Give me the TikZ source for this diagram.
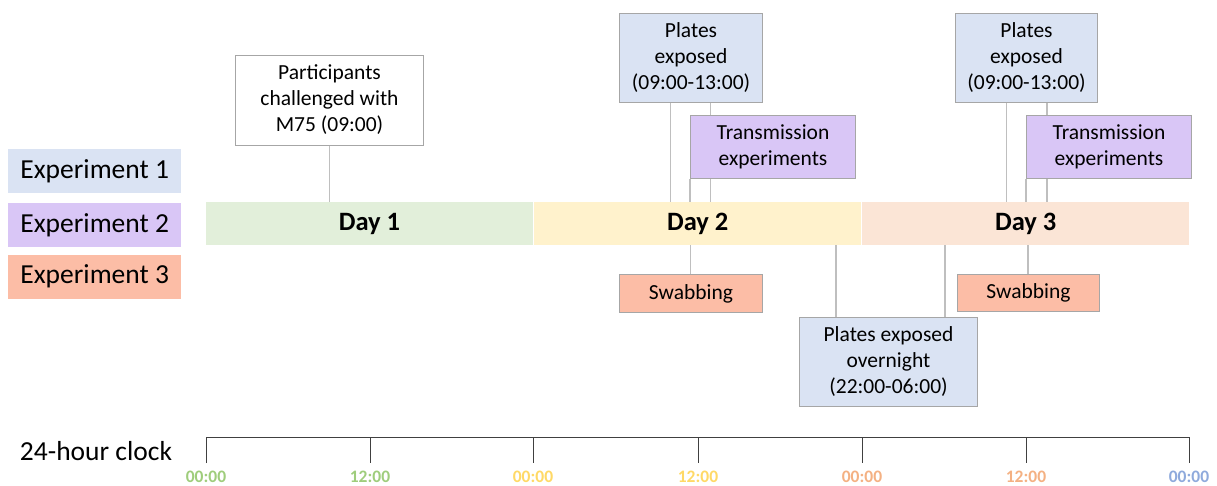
\documentclass[tikz,border=0pt]{standalone}
\usepackage{fontspec}
\setmainfont{Carlito}
\begin{document}
\definecolor{exA}{HTML}{DAE3F3}
\definecolor{exB}{HTML}{D9C6F6}
\definecolor{exC}{HTML}{FCBDA6}
\definecolor{dA}{HTML}{E2EFDA}
\definecolor{dB}{HTML}{FFF2CC}
\definecolor{dC}{HTML}{FBE5D6}
\definecolor{bordc}{HTML}{A6A6A6}
\definecolor{connc}{HTML}{BFBFBF}
\definecolor{clkA}{HTML}{9FCD7C}
\definecolor{clkB}{HTML}{FFD966}
\definecolor{clkC}{HTML}{F4B183}
\definecolor{clkD}{HTML}{8FAADC}
\begin{tikzpicture}[x=1pt,y=-1pt,
  box/.style={draw=bordc, line width=1pt, align=center, anchor=north west, inner sep=0pt,
    font=\fontsize{21.5}{26}\selectfont},
  legend/.style={anchor=north west, inner sep=0pt, minimum width=173pt, minimum height=44pt,
    font=\fontsize{27.5}{32}\selectfont},
  daybar/.style={anchor=north west, inner sep=0pt, minimum height=43pt,
    font=\bfseries\fontsize{26.5}{30}\selectfont},
  conn/.style={draw=connc, line width=1.2pt},
  clk/.style={inner sep=0pt, font=\bfseries\fontsize{17.5}{20}\selectfont},
  axisl/.style={draw=black!75, line width=0.9pt}]
\useasboundingbox (0,0) rectangle (1217,485);

% legend
\node[legend, fill=exA] (e1) at (8,149) {\raisebox{-2pt}{Experiment 1}};
\node[legend, fill=exB] (e2) at (8,203) {\raisebox{-2pt}{Experiment 2}};
\node[legend, fill=exC] (e3) at (8,254.5) {\raisebox{-2pt}{Experiment 3}};

% day bars
\node[daybar, fill=dA, minimum width=326.5pt] (d1) at (206,202) {\raisebox{-3pt}{Day 1}};
\node[daybar, fill=dB, minimum width=327pt] (d2) at (534,202) {\raisebox{-3pt}{Day 2}};
\node[daybar, fill=dC, minimum width=327pt] (d3) at (862,202) {\raisebox{-3pt}{Day 3}};

% boxes
\node[box, fill=white, minimum width=188pt, minimum height=90pt] (part) at (235,54.5)
  {Participants\\challenged with\\M75 (09:00)};
\node[box, fill=exA, minimum width=143pt, minimum height=89pt] (plA) at (619,13)
  {Plates\\exposed\\(09:00-13:00)};
\node[box, fill=exB, minimum width=165pt, minimum height=63pt] (trA) at (690,115)
  {Transmission\\experiments};
\node[box, fill=exC, minimum width=143pt, minimum height=38pt] (swA) at (619,274)
  {Swabbing};
\node[box, fill=exA, minimum width=178pt, minimum height=89pt] (ovn) at (799,317)
  {Plates exposed\\overnight\\(22:00-06:00)};
\node[box, fill=exA, minimum width=142pt, minimum height=89pt] (plB) at (955,13)
  {Plates\\exposed\\(09:00-13:00)};
\node[box, fill=exB, minimum width=165pt, minimum height=63pt] (trB) at (1026,115)
  {Transmission\\experiments};
\node[box, fill=exC, minimum width=142pt, minimum height=37pt] (swB) at (957,274)
  {Swabbing};

% connectors
\draw[conn] (part.south -| 329.5,0) -- (d1.north -| 329.5,0);
\draw[conn] (plA.south -| 670.5,0) -- (d2.north -| 670.5,0);
\draw[conn] (plA.south -| 710.5,0) -- (trA.north -| 710.5,0);
\draw[conn] (trA.south -| 710.5,0) -- (d2.north -| 710.5,0);
\draw[conn] (trA.south -| 690,0) -- (d2.north -| 690,0);
\draw[conn] (d2.south -| 690.5,0) -- (swA.north -| 690.5,0);
\draw[conn] (d2.south -| 836,0) -- (ovn.north -| 836,0);
\draw[conn] (d3.south -| 945,0) -- (ovn.north -| 945,0);
\draw[conn] (d3.south -| 1028,0) -- (swB.north -| 1028,0);
\draw[conn] (plB.south -| 1006.5,0) -- (d3.north -| 1006.5,0);
\draw[conn] (plB.south -| 1047,0) -- (trB.north -| 1047,0);
\draw[conn] (trB.south -| 1047,0) -- (d3.north -| 1047,0);
\draw[conn] (trB.south -| 1026,0) -- (d3.north -| 1026,0);

% clock axis
\node[font=\fontsize{27.5}{32}\selectfont] (clock) at (96,451) {24-hour clock};
\draw[axisl] (206,463) -- (206,437.5) -- (1189.5,437.5) -- (1189.5,463);
\foreach \xx in {370,533,698,862,1026}{
  \draw[axisl] (\xx,437.5) -- (\xx,463);
}
\node[clk, text=clkA] (t0) at (206,477) {00:00};
\node[clk, text=clkA] (t1) at (370,477) {12:00};
\node[clk, text=clkB] (t2) at (533,477) {00:00};
\node[clk, text=clkB] (t3) at (698,477) {12:00};
\node[clk, text=clkC] (t4) at (862,477) {00:00};
\node[clk, text=clkC] (t5) at (1026,477) {12:00};
\node[clk, text=clkD] (t6) at (1189,477) {00:00};
\end{tikzpicture}
\end{document}
